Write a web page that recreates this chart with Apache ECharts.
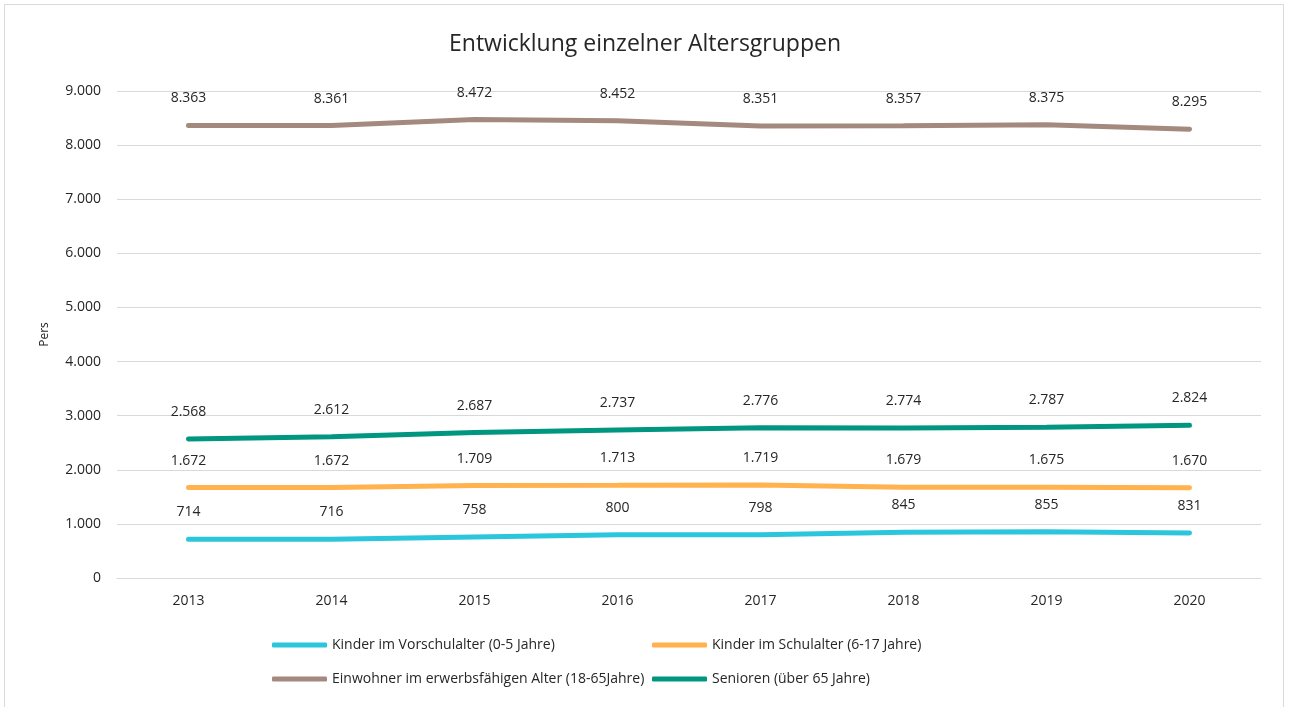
<!DOCTYPE html>
<html>
<head>
<meta charset="utf-8">
<script src="https://cdn.jsdelivr.net/npm/echarts@6/dist/echarts.min.js"></script>
<style>
  body { margin: 0; background: #fff; }
  #main { width: 1290px; height: 707px; }
  #frame {
    position: absolute; left: 4px; top: 4px; width: 1278px; height: 710px;
    border: 1px solid #d9d9d9; pointer-events: none;
  }
</style>
</head>
<body>
<div id="main"></div>
<div id="frame"></div>
<script>
// Jahre
var years = ['2013', '2014', '2015', '2016', '2017', '2018', '2019', '2020'];
// Altersgruppen
var vorschul = [714, 716, 758, 800, 798, 845, 855, 831];
var schul = [1672, 1672, 1709, 1713, 1719, 1679, 1675, 1670];
var erwerb = [8363, 8361, 8472, 8452, 8351, 8357, 8375, 8295];
var senioren = [2568, 2612, 2687, 2737, 2776, 2774, 2787, 2824];

var names = [
  'Kinder im Vorschulalter (0-5 Jahre)',
  'Kinder im Schulalter (6-17 Jahre)',
  'Einwohner im erwerbsfähigen Alter (18-65Jahre)',
  'Senioren (über 65 Jahre)'
];
var colors = ['#2bc5dc', '#ffb24e', '#a48a7e', '#00967f'];

// Zahlen mit Punkt als Tausendertrennzeichen
function fmt (v) {
  return String(v).replace(/\B(?=(\d{3})+(?!\d))/g, '.');
}

var font = '"Open Sans", Lato, sans-serif';

function makeSeries (i, data) {
  return {
    name: names[i],
    type: 'line',
    data: data,
    showSymbol: true,
    symbol: 'circle',
    symbolSize: 0,
    lineStyle: { width: 5, color: colors[i], cap: 'round' },
    itemStyle: { color: colors[i] },
    label: {
      show: true,
      position: 'top',
      distance: 20,
      color: '#262626',
      fontSize: 14,
      fontFamily: font,
      formatter: function (p) { return fmt(p.value) }
    },
    emphasis: { disabled: true }
  }
}

function makeLegend (i, left, top) {
  return {
    left: left,
    top: top,
    padding: 0,
    icon: 'roundRect',
    itemWidth: 55,
    itemHeight: 5,
    itemGap: 0,
    textStyle: { color: '#262626', fontSize: 14, fontFamily: font },
    data: [names[i]]
  }
}

var chart = echarts.init(document.getElementById('main'));
chart.setOption({
  animation: false,
  title: {
    text: 'Entwicklung einzelner Altersgruppen',
    left: 'center',
    top: 28,
    textStyle: { color: '#262626', fontSize: 23, fontWeight: 'normal', fontFamily: font }
  },
  legend: [
    makeLegend(0, 272, 638),
    makeLegend(1, 652, 638),
    makeLegend(2, 272, 672),
    makeLegend(3, 652, 672)
  ],
  grid: { left: 117, right: 29, top: 91, bottom: 129 },
  xAxis: {
    type: 'category',
    data: years,
    boundaryGap: true,
    axisLine: { show: true, lineStyle: { color: '#d9d9d9' } },
    axisTick: { show: false },
    axisLabel: { color: '#262626', fontSize: 14, fontFamily: font, margin: 16 }
  },
  yAxis: {
    type: 'value',
    min: 0,
    max: 9000,
    interval: 1000,
    name: 'Pers',
    nameLocation: 'middle',
    nameGap: 66,
    nameTextStyle: { color: '#262626', fontSize: 12, fontFamily: font },
    axisLine: { show: false },
    axisTick: { show: false },
    splitLine: { lineStyle: { color: '#d9d9d9', width: 1 } },
    axisLabel: {
      color: '#262626', fontSize: 14, fontFamily: font, margin: 16,
      formatter: function (v) { return fmt(v) }
    }
  },
  series: [
    makeSeries(0, vorschul),
    makeSeries(1, schul),
    makeSeries(2, erwerb),
    makeSeries(3, senioren)
  ]
});
</script>
</body>
</html>
